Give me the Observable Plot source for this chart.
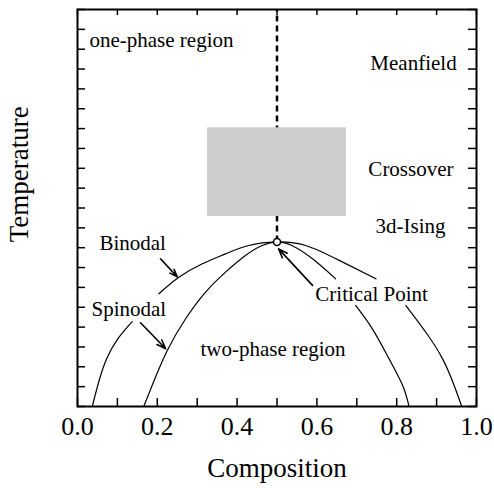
<!DOCTYPE html>
<html>
<head>
<meta charset="utf-8">
<script src="https://cdn.jsdelivr.net/npm/d3@7"></script>
<script src="https://cdn.jsdelivr.net/npm/@observablehq/plot@0.6"></script>
<style>
  html, body { margin: 0; padding: 0; background: #fff; }
  #chart svg, #chart svg text { font-family: "Liberation Serif", "DejaVu Serif", serif !important; }
</style>
</head>
<body>
<div id="chart"></div>
<script>
// ---- data ----
// Binodal (outer) curve; NaN marks gaps where labels interrupt the curve
const binodalX = [0.037, 0.053, 0.073, 0.101, 0.137, NaN, 0.204, 0.254, 0.313, 0.371, 0.429, 0.5, 0.572, 0.656, 0.748, NaN, 0.823, 0.873, 0.915, 0.944, 0.963];
const binodalT = [0, 1.22, 2.40, 3.41, 4.28, NaN, 5.68, 6.51, 7.19, 7.69, 8.11, 8.29, 8.11, 7.36, 6.43, NaN, 5.09, 3.74, 2.40, 1.06, 0];
// Spinodal (inner) curve
const spinodalX = [0.166, 0.187, 0.225, 0.271, 0.321, 0.371, 0.421, 0.463, 0.5, 0.537, 0.589, 0.647, NaN, 0.697, 0.739, 0.781, 0.815, 0.831];
const spinodalT = [0, 1.06, 2.82, 4.42, 5.76, 6.77, 7.61, 8.11, 8.29, 8.11, 7.44, 6.43, NaN, 5.09, 3.91, 2.40, 1.06, 0];
// Critical point
const criticalX = [0.5];
const criticalT = [8.29];
const topT = 20;
// Crossover region (shaded box)
const crossoverX = [0.326, 0.674];
const crossoverT = [9.57, 14.04];
// Text labels
const labelText = ["one-phase region", "Meanfield", "Crossover", "3d-Ising", "Binodal", "Spinodal", "two-phase region", "Critical Point"];
const labelX = [0.030, 0.734, 0.729, 0.747, 0.055, 0.035, 0.308, 0.596];
const labelT = [18.47, 17.31, 11.97, 9.10, 8.20, 4.92, 2.86, 5.63];
// Arrows: [x1, t1, x2, t2]
const arrowX1 = [0.208, 0.158, 0.589];
const arrowT1 = [7.44, 4.22, 6.10];
const arrowX2 = [0.250, 0.221, 0.504];
const arrowT2 = [6.53, 2.91, 7.94];
// Axes
const xTicks = [0, 0.1, 0.2, 0.3, 0.4, 0.5, 0.6, 0.7, 0.8, 0.9, 1.0];
const xTickLabels = ["0.0", "0.2", "0.4", "0.6", "0.8", "1.0"];
const yTicks = [0,1,2,3,4,5,6,7,8,9,10,11,12,13,14,15,16,17,18,19,20];
const xTitle = "Composition";
const yTitle = "Temperature";
const yTitleT = 11.7;

// ---- build ----
const W = 494, H = 489;
const mL = 77, mR = 18, mT = 9, mB = 83;
const innerW = W - mL - mR, innerH = H - mT - mB;
const serif = "Liberation Serif";

const binodal = binodalX.map((x, i) => ({x, t: binodalT[i]}));
const spinodal = spinodalX.map((x, i) => ({x, t: spinodalT[i]}));
const labels = labelText.map((s, i) => ({s, x: labelX[i], t: labelT[i]}));
const arrows = arrowX1.map((x1, i) => ({x1, t1: arrowT1[i], x2: arrowX2[i], t2: arrowT2[i]}));
const box = [{x1: crossoverX[0], x2: crossoverX[1], t1: crossoverT[0], t2: crossoverT[1]}];
const crit = criticalX.map((x, i) => ({x, t: criticalT[i]}));

const plot = Plot.plot({
  width: W, height: H,
  marginLeft: mL, marginRight: mR, marginTop: mT, marginBottom: mB,
  style: {fontFamily: serif, background: "#fff", color: "#000"},
  x: {domain: [0, 1], axis: null},
  y: {domain: [0, 20], axis: null},
  marks: [
    Plot.ruleX(crit, {x: "x", y1: "t", y2: () => topT, stroke: "#000", strokeWidth: 2.5, strokeDasharray: "6,4"}),
    Plot.rect(box, {x1: "x1", x2: "x2", y1: "t1", y2: "t2", fill: "#cdcdcd"}),
    Plot.line(binodal, {x: "x", y: "t", curve: "natural", stroke: "#000", strokeWidth: 1.2}),
    Plot.line(spinodal, {x: "x", y: "t", curve: "natural", stroke: "#000", strokeWidth: 1.2}),
    Plot.arrow(arrows, {x1: "x1", y1: "t1", x2: "x2", y2: "t2", stroke: "#000", strokeWidth: 1.6, headLength: 9, headAngle: 40}),
    Plot.dot(crit, {x: "x", y: "t", r: 3.5, fill: "#fff", stroke: "#000", strokeWidth: 1.5}),
    Plot.text(labels, {x: "x", y: "t", text: "s", textAnchor: "start", lineAnchor: "middle", fontSize: 21, fontFamily: serif, fill: "#000"}),
    Plot.tickX(xTicks, {x: d => d, insetTop: innerH - 8, stroke: "#000", strokeWidth: 1.5}),
    Plot.tickX(xTicks, {x: d => d, insetBottom: innerH - 6, stroke: "#000", strokeWidth: 1.5}),
    Plot.tickY(yTicks, {y: d => d, insetRight: innerW - 8, stroke: "#000", strokeWidth: 1.5}),
    Plot.tickY(yTicks, {y: d => d, insetLeft: innerW - 8, stroke: "#000", strokeWidth: 1.5}),
    Plot.text(xTickLabels, {x: d => +d, text: d => d, frameAnchor: "bottom", textAnchor: "middle", lineAnchor: "top", dy: 10, fontSize: 26, fontFamily: serif, fill: "#000"}),
    Plot.text([xTitle], {frameAnchor: "bottom", text: d => d, textAnchor: "middle", lineAnchor: "middle", dy: 62, fontSize: 27, fontFamily: serif, fill: "#000"}),
    Plot.text([yTitle], {frameAnchor: "left", y: () => yTitleT, text: d => d, rotate: -90, textAnchor: "middle", lineAnchor: "middle", dx: -58, fontSize: 27, fontFamily: serif, fill: "#000"}),
    Plot.frame({stroke: "#000", strokeWidth: 2})
  ]
});
document.getElementById("chart").appendChild(plot);
</script>
</body>
</html>
